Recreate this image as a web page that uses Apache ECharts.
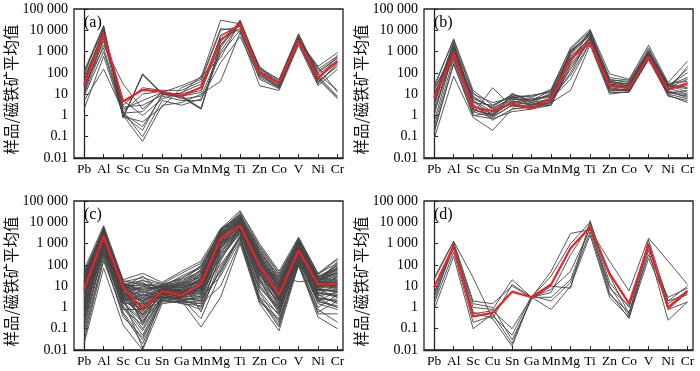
<!DOCTYPE html>
<html><head><meta charset="utf-8">
<script src="https://cdn.jsdelivr.net/npm/echarts@6/dist/echarts.min.js"></script>
<style>html,body{margin:0;padding:0;background:#fff}#c{width:700px;height:371px}</style>
</head><body><div id="c"></div>
<script>
const categories = ['Pb','Al','Sc','Cu','Sn','Ga','Mn','Mg','Ti','Zn','Co','V','Ni','Cr'];
const yTickLabels = ['0.01','0.1','1','10','100','1 000','10 000','100 000'];
const yName = '样品/磁铁矿平均值';
const panelLabels = ['(a)','(b)','(c)','(d)'];

const meanA = [28, 7000, 4.5, 16, 13, 8, 21, 3300, 20000, 100, 33, 3300, 58, 350];
const samplesA = [
  [100, 15000, 0.8, 85, 10, 8, 2, 2000, 28000, 150, 40, 5000, 60, 7],
  [120, 17000, 0.75, 90, 11, 8, 2.2, 1500, 30000, 180, 45, 6000, 70, 8],
  [90, 13000, 0.85, 80, 10, 7, 2, 3000, 25000, 130, 35, 4500, 50, 6],
  [2, 600, 1, 0.06, 3, 4, 10, 40, 8000, 25, 15, 2000, 25, 150],
  [5, 150, 1.5, 0.1, 5, 3, 6, 300, 5000, 60, 20, 3000, 40, 200],
  [10, 2000, 30, 2, 12, 25, 60, 30000, 20000, 80, 20, 3000, 100, 500],
  [15, 5000, 3, 20, 15, 15, 40, 10000, 15000, 100, 25, 4000, 150, 600],
  [30, 10000, 2, 5, 12, 10, 20, 5000, 20000, 120, 30, 3500, 200, 900],
  [8, 1000, 1.2, 0.3, 8, 5, 5, 800, 10000, 50, 18, 2500, 30, 300],
  [20, 3000, 5, 1, 6, 12, 30, 4000, 12000, 70, 25, 3000, 80, 400],
  [50, 8000, 1, 0.2, 10, 9, 15, 2000, 18000, 100, 30, 5000, 120, 500],
  [40, 12000, 1.5, 10, 14, 6, 8, 1000, 22000, 160, 50, 7000, 90, 15],
  [12, 4000, 0.9, 0.5, 2.5, 20, 50, 12000, 9000, 90, 22, 2800, 35, 250],
  [70, 6000, 2.5, 3, 9, 11, 70, 500, 25000, 110, 35, 4000, 45, 700],
  [25, 1500, 1.3, 1.5, 13, 8, 12, 6000, 16000, 200, 28, 3200, 180, 12]
];

const meanB = [6.5, 830, 2.5, 1.6, 3.6, 2.2, 6, 430, 2900, 25, 19, 580, 16, 33];
const samplesB = [
  [20, 4000, 15, 3, 8, 5, 15, 1500, 11000, 90, 50, 2000, 35, 350],
  [0.08, 70, 0.8, 0.2, 2, 2.5, 4, 15, 2000, 10, 13, 400, 9, 4],
  [0.15, 300, 1, 0.7, 1.5, 2, 3, 200, 3000, 20, 15, 500, 12, 8],
  [0.3, 500, 1.2, 20, 2.5, 3, 5, 100, 5000, 30, 20, 700, 15, 200],
  [0.5, 1000, 3, 0.9, 11, 4, 10, 800, 8000, 40, 30, 1200, 25, 100],
  [1, 2000, 2, 1, 5, 3, 4, 1200, 6000, 50, 35, 900, 20, 50],
  [2, 800, 5, 1.5, 4, 6, 8, 600, 4000, 35, 25, 800, 30, 20],
  [3, 1500, 8, 2, 7, 9, 12, 1000, 7000, 45, 40, 1500, 28, 12],
  [5, 3000, 1.5, 0.8, 3, 2.5, 3, 300, 10000, 15, 14, 600, 10, 6],
  [8, 2500, 4, 3, 9, 7, 17, 1400, 9000, 60, 45, 1000, 18, 30],
  [10, 600, 2.5, 1.2, 6, 4, 6, 50, 2500, 12, 12, 450, 14, 9],
  [15, 1200, 6, 2.5, 10, 5, 9, 400, 5000, 25, 18, 700, 22, 150],
  [25, 3500, 10, 4, 7, 8, 14, 900, 8000, 30, 22, 1100, 32, 40],
  [12, 400, 1.8, 1, 4.5, 3.5, 5, 150, 3500, 18, 16, 550, 11, 15],
  [1.5, 700, 3.5, 0.6, 2, 2.5, 3.5, 500, 4500, 22, 20, 650, 13, 7],
  [4, 2000, 12, 1.8, 5.5, 6, 7, 700, 6500, 28, 25, 850, 26, 60],
  [7, 1800, 2, 0.9, 3, 2, 4.5, 1100, 5500, 40, 28, 950, 17, 25],
  [0.2, 250, 1, 1.3, 8, 3, 5.5, 250, 3200, 16, 17, 600, 8, 5],
  [18, 900, 7, 2.2, 6.5, 4.5, 11, 350, 4200, 35, 30, 750, 24, 18],
  [3.5, 1400, 4.5, 1.1, 4, 3.2, 6.5, 80, 2800, 14, 15, 520, 19, 10]
];

const meanC = [7, 2200, 9, 0.8, 5.8, 3.7, 13, 1700, 7000, 90, 4, 480, 12, 12];
const samplesC = [
  [0.02, 70, 0.15, 0.01, 1.5, 2, 0.12, 3, 1000, 1.5, 0.08, 100, 0.35, 0.1],
  [60, 7000, 20, 40, 15, 50, 150, 5000, 35000, 1000, 50, 2000, 40, 200],
  [0.05, 200, 0.5, 0.02, 2, 3, 2, 50, 2000, 5, 0.2, 150, 2, 1],
  [0.1, 500, 1, 0.05, 3, 2.5, 1, 300, 3000, 20, 0.5, 200, 3, 2],
  [0.3, 800, 2, 0.1, 4, 4, 5, 800, 5000, 50, 1, 300, 5, 3],
  [0.5, 1000, 3, 0.3, 5, 5, 8, 1000, 6000, 80, 2, 400, 8, 5],
  [1, 1500, 5, 0.5, 6, 3, 10, 1500, 8000, 100, 3, 500, 10, 8],
  [2, 2000, 8, 1, 7, 6, 15, 2000, 10000, 150, 5, 600, 12, 10],
  [3, 3000, 10, 2, 8, 8, 20, 3000, 12000, 200, 8, 800, 15, 15],
  [5, 4000, 12, 3, 10, 10, 30, 4000, 15000, 300, 10, 1000, 20, 20],
  [8, 5000, 15, 5, 12, 20, 50, 5000, 20000, 500, 20, 1200, 25, 40],
  [10, 6000, 6, 8, 9, 30, 80, 2500, 25000, 400, 30, 1500, 30, 60],
  [15, 3500, 4, 10, 7, 15, 100, 1200, 9000, 250, 15, 900, 18, 100],
  [20, 2500, 7, 20, 6, 12, 60, 800, 7000, 120, 12, 700, 14, 150],
  [30, 1800, 9, 30, 5, 7, 40, 600, 5000, 60, 6, 450, 9, 80],
  [40, 1200, 11, 15, 4, 5, 25, 400, 4000, 30, 4, 350, 6, 30],
  [50, 900, 3, 6, 3, 4, 12, 200, 3000, 15, 2, 250, 4, 12],
  [25, 600, 2, 4, 2.5, 3, 7, 100, 2000, 8, 1, 180, 2, 6],
  [12, 400, 1.5, 1.5, 2, 2, 3, 30, 1500, 3, 0.5, 120, 1, 4],
  [6, 300, 0.8, 0.8, 1.8, 1.8, 1.5, 10, 1200, 2, 0.3, 90, 0.6, 2],
  [4, 2500, 10, 0.2, 6, 5, 15, 2500, 9000, 70, 3, 600, 15, 25],
  [2.5, 3000, 14, 0.4, 7, 4, 9, 3500, 11000, 100, 4, 700, 20, 35],
  [1.5, 1800, 6, 0.6, 8, 6, 6, 1800, 7000, 40, 2.5, 500, 12, 9],
  [0.8, 1200, 4, 1.2, 5, 3, 4, 900, 6000, 25, 1.5, 400, 7, 3],
  [0.4, 700, 2.5, 2.5, 4, 2.5, 2.5, 500, 4500, 12, 0.8, 300, 4, 1.5],
  [0.2, 400, 1.2, 0.08, 3, 2, 1.8, 200, 3500, 6, 0.4, 220, 2.5, 1],
  [0.03, 150, 0.6, 0.03, 2.5, 1.5, 1.2, 60, 2500, 3, 0.15, 160, 1.5, 0.8],
  [35, 4500, 18, 12, 11, 25, 70, 4500, 18000, 600, 25, 1800, 35, 180],
  [45, 5500, 16, 25, 13, 40, 120, 3500, 30000, 800, 40, 1600, 38, 120],
  [18, 3200, 8, 7, 9, 9, 20, 2200, 14000, 180, 7, 900, 16, 50],
  [9, 2800, 7, 3.5, 6.5, 5.5, 12, 1600, 10000, 110, 5, 750, 11, 18],
  [7, 2000, 5, 1.8, 5.5, 4.5, 9, 1300, 8500, 90, 3.5, 550, 9, 14],
  [3.5, 1500, 3.5, 1, 4.5, 3.5, 7, 1000, 7500, 60, 2.2, 420, 6, 7],
  [1.2, 1000, 2.2, 0.5, 3.5, 2.8, 5, 700, 5500, 35, 1.2, 320, 3.5, 5],
  [0.6, 600, 1.8, 0.25, 2.8, 2.2, 3.5, 350, 4000, 18, 0.7, 250, 2.2, 2.5],
  [14, 2200, 12, 0.15, 9, 18, 0.6, 150, 6500, 50, 30, 16, 20, 40],
  [0.9, 900, 2.8, 0.012, 3.2, 2.6, 0.3, 40, 2200, 2.5, 0.12, 130, 0.8, 0.2],
  [28, 3800, 9, 9, 8.5, 12, 35, 2800, 16000, 350, 18, 1100, 22, 70],
  [2.2, 1600, 4.5, 1.4, 5, 4, 8, 1200, 9500, 130, 6, 650, 10, 11],
  [11, 2600, 6.5, 2.8, 7.5, 7, 18, 1900, 12000, 220, 9, 850, 13, 16],
  [0.25, 350, 0.9, 0.15, 2.2, 1.8, 1.5, 250, 3800, 10, 0.6, 190, 1.8, 1.2],
  [5.5, 1100, 3, 0.7, 4.8, 3.3, 6, 600, 5000, 45, 2, 380, 7, 6],
  [16, 3300, 11, 4.5, 10, 14, 45, 3200, 13000, 280, 12, 1000, 17, 45],
  [0.07, 250, 0.35, 0.04, 2.2, 1.6, 0.8, 80, 1800, 1.8, 0.25, 110, 0.5, 0.5],
  [38, 4800, 13, 18, 12, 22, 90, 4200, 22000, 700, 35, 1400, 28, 90],
  [1.8, 2300, 6, 0.9, 6, 6, 11, 2100, 11000, 160, 4.5, 650, 14, 22],
  [13, 4200, 9.5, 1.7, 8, 9, 22, 3800, 17000, 260, 11, 1150, 19, 28],
  [0.7, 1300, 3.8, 0.35, 4.2, 3.8, 4.5, 850, 6800, 55, 1.8, 420, 5, 4],
  [22, 5200, 14, 6.5, 11, 16, 55, 4600, 24000, 420, 22, 1300, 26, 75],
  [3, 1700, 5.5, 2.1, 6.2, 4.8, 10, 1400, 9200, 95, 4.2, 600, 11, 9],
  [9.5, 3600, 8.5, 3.8, 7.8, 8.5, 16, 2600, 13500, 190, 8, 880, 15, 32],
  [0.45, 900, 2.6, 0.45, 3.8, 3.1, 3.2, 650, 5200, 38, 1.4, 340, 4.5, 3.5],
  [32, 2900, 10.5, 11, 9.5, 11, 28, 2400, 15500, 240, 14, 1050, 21, 110],
  [2, 1900, 7.5, 1.6, 5.8, 5.2, 13, 1750, 8800, 120, 5.5, 700, 12, 13],
  [6.5, 2400, 4.2, 1.2, 5.2, 4.2, 8.5, 1100, 7800, 75, 2.8, 520, 8.5, 8],
  [17, 4100, 12.5, 5.5, 9.2, 10.5, 26, 3000, 19000, 330, 16, 1250, 23, 55],
  [1.1, 1400, 3.2, 0.75, 4.6, 4.4, 6.5, 950, 7200, 65, 2.6, 460, 6.5, 5.5],
  [4.5, 3100, 9, 2.4, 7.2, 6.8, 17, 2700, 12500, 170, 7, 820, 14, 19],
  [0.15, 550, 1.6, 0.2, 3, 2.4, 2.2, 420, 4300, 22, 0.9, 270, 2.8, 1.8],
  [24, 3700, 8, 13, 8.8, 13, 38, 2000, 11500, 210, 10, 950, 18, 65]
];

const meanD = [9, 750, 0.38, 0.55, 5.5, 3, 12, 600, 6000, 40, 1.5, 900, 1, 6];
const samplesD = [
  [25, 1300, 25, 0.3, 0.015, 3, 50, 3000, 4500, 150, 6, 1800, 150, 12],
  [20, 1200, 2, 1.5, 10, 3, 30, 1000, 10000, 30, 0.5, 1500, 2, 10],
  [5, 800, 1, 0.8, 20, 3, 5, 300, 8000, 10, 0.4, 800, 0.8, 1.8],
  [3, 600, 0.5, 0.7, 0.1, 3, 3, 20, 6000, 5, 0.3, 500, 0.25, 1.8],
  [1.5, 400, 0.2, 0.4, 0.05, 3.5, 2, 15, 3500, 4, 0.6, 300, 3, 8],
  [0.8, 250, 0.1, 0.5, 0.02, 3, 0.8, 10, 2500, 3, 0.35, 200, 1.5, 6],
  [2, 1000, 1.5, 1, 0.03, 2.5, 10, 8, 12000, 15, 1, 1000, 0.8, 5],
  [4, 900, 0.6, 0.3, 12, 3, 7, 50, 5000, 8, 1.2, 700, 2, 4]
];

const panels = [
  {samples: samplesA, mean: meanA},
  {samples: samplesB, mean: meanB},
  {samples: samplesC, mean: meanC},
  {samples: samplesD, mean: meanD}
];

const lefts = [74, 424, 74, 424];
const tops = [9, 9, 201, 201];
const W = 269, H = 149;
const serif = 'Liberation Serif';
const ink = '#222';

const grid = [], xAxis = [], yAxis = [], series = [], graphic = [];
panels.forEach((p, k) => {
  grid.push({left: lefts[k], top: tops[k], width: W, height: H, show: true,
    borderColor: ink, borderWidth: 1.3, backgroundColor: 'transparent'});
  xAxis.push({type: 'value', gridIndex: k, min: -0.52, max: 13.28,
    splitLine: {show: false},
    axisLine: {show: true, onZero: false, lineStyle: {color: ink, width: 1.3}},
    axisTick: {show: true, inside: true, length: 4, lineStyle: {color: ink},
      customValues: categories.map((c, i) => i)},
    axisLabel: {customValues: categories.map((c, i) => i), color: '#000',
      fontFamily: serif, fontSize: 13.5, margin: 4,
      formatter: v => categories[Math.round(v)] || ''}
  });
  yAxis.push({type: 'log', gridIndex: k, logBase: 10, min: 0.01, max: 100000, interval: 1,
    name: yName, nameLocation: 'middle', nameRotate: 90, nameGap: 54,
    nameTextStyle: {fontFamily: 'Noto Sans CJK SC', fontSize: 15.5, color: '#111',
      padding: [0, 12, 0, 0]},
    splitLine: {show: false},
    axisLine: {show: true, lineStyle: {color: ink, width: 1.3}},
    axisTick: {show: true, inside: true, length: 4, lineStyle: {color: ink}},
    axisLabel: {color: '#000', fontFamily: serif, fontSize: 14, margin: 6,
      formatter: v => yTickLabels[Math.round(Math.log10(v)) + 2] || ''}
  });
  p.samples.forEach(s => {
    series.push({type: 'line', xAxisIndex: k, yAxisIndex: k, symbol: 'none',
      silent: true, lineStyle: {color: '#454545', width: 0.9}, z: 2,
      data: s.map((v, i) => [i, v])});
  });
  series.push({type: 'line', xAxisIndex: k, yAxisIndex: k, symbol: 'none',
    silent: true, lineStyle: {color: '#e8232a', width: 2.2}, z: 5,
    data: p.mean.map((v, i) => [i, v])});
  graphic.push({type: 'text', left: lefts[k] + 10, top: tops[k] + 6,
    style: {text: panelLabels[k], font: '16px "Liberation Serif"', fill: '#000'}});
});

const chart = echarts.init(document.getElementById('c'), null, {renderer: 'canvas'});
chart.setOption({animation: false, grid, xAxis, yAxis, series, graphic});
</script></body></html>
